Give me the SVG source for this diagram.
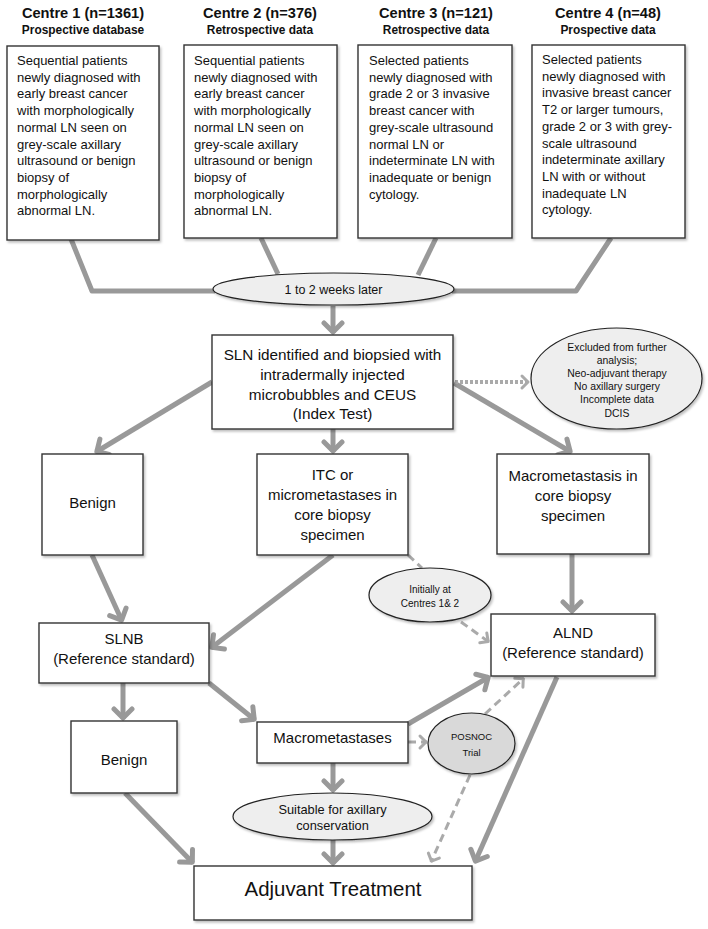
<svg xmlns="http://www.w3.org/2000/svg" width="708" height="929" viewBox="0 0 708 929">
<style>
text{font-family:"Liberation Sans",Arial,sans-serif;fill:#111}
.hd{font-weight:bold;font-size:14.6px;text-anchor:middle}
.sh{font-weight:bold;font-size:11.9px;text-anchor:middle}
.bt{font-size:13px}
.mt{font-size:15px;text-anchor:middle}
.sm{font-size:10.4px;text-anchor:middle}
.box{fill:#fff;stroke:#333;stroke-width:1.4;filter:url(#sh)}
.ell{fill:#eeeeee;stroke:#222;stroke-width:1.2;filter:url(#sh)}
.c{fill:none;stroke:#999;stroke-width:5;stroke-linejoin:round}
.d{fill:none;stroke:#aaa;stroke-width:3;stroke-dasharray:8 5}
.dt{fill:none;stroke:#aaa;stroke-width:4;stroke-dasharray:3 2}
</style>
<defs>
<filter id="sh" x="-10%" y="-10%" width="125%" height="130%">
<feDropShadow dx="1.5" dy="2" stdDeviation="1.2" flood-color="#000" flood-opacity="0.25"/>
</filter>
<marker id="ah" markerUnits="userSpaceOnUse" viewBox="-14 -12 16 24" markerWidth="16" markerHeight="24" refX="0" refY="0" orient="auto">
<path d="M-10,-9 L-1,0 L-10,9" fill="none" stroke="#999" stroke-width="5" stroke-linejoin="round" stroke-linecap="round"/>
</marker>
<marker id="ahd" markerUnits="userSpaceOnUse" viewBox="-10 -9 12 18" markerWidth="12" markerHeight="18" refX="0" refY="0" orient="auto">
<path d="M-7,-6 L-1,0 L-7,6" fill="none" stroke="#aaa" stroke-width="3" stroke-linejoin="round" stroke-linecap="round"/>
</marker>
</defs>

<g id="connectors">
<polyline class="c" points="71,239 92,291 215,291"/>
<line class="c" x1="261" y1="238" x2="278" y2="274"/>
<line class="c" x1="436" y1="238" x2="418" y2="275"/>
<polyline class="c" points="611,238 576,291 452,291"/>
<line class="c" x1="333" y1="306" x2="333" y2="333" marker-end="url(#ah)"/>
<line class="c" x1="212" y1="382" x2="96" y2="452" marker-end="url(#ah)"/>
<line class="c" x1="333" y1="429" x2="333" y2="452" marker-end="url(#ah)"/>
<line class="c" x1="454" y1="383" x2="571" y2="452" marker-end="url(#ah)"/>
<line class="c" x1="92" y1="555" x2="122" y2="621" marker-end="url(#ah)"/>
<line class="c" x1="333" y1="555" x2="211" y2="648" marker-end="url(#ah)"/>
<line class="c" x1="572" y1="554" x2="572" y2="612" marker-end="url(#ah)"/>
<line class="c" x1="123" y1="683" x2="123" y2="719" marker-end="url(#ah)"/>
<line class="c" x1="209" y1="683" x2="255" y2="720" marker-end="url(#ah)"/>
<line class="c" x1="408" y1="724" x2="489" y2="677" marker-end="url(#ah)"/>
<line class="c" x1="333" y1="763" x2="333" y2="791" marker-end="url(#ah)"/>
<line class="c" x1="333" y1="840" x2="333" y2="864" marker-end="url(#ah)"/>
<line class="c" x1="125" y1="793" x2="193" y2="863" marker-end="url(#ah)"/>
<line class="c" x1="557" y1="677" x2="475" y2="862" marker-end="url(#ah)"/>
<line class="d" x1="408" y1="555" x2="422" y2="568"/>
<line class="d" x1="461" y1="622" x2="489" y2="642" marker-end="url(#ahd)"/>
<line class="d" x1="408" y1="742" x2="427" y2="742" marker-end="url(#ahd)"/>
<line class="d" x1="485" y1="714" x2="524" y2="678" marker-end="url(#ahd)"/>
<line class="d" x1="470" y1="775" x2="431" y2="862" marker-end="url(#ahd)"/>
<line class="dt" x1="455" y1="382" x2="529" y2="382" marker-end="url(#ahd)"/>
</g>

<g id="centre1">
<text class="hd" x="83" y="18">Centre 1 (n=1361)</text>
<text class="sh" x="83" y="34">Prospective database</text>
<rect class="box" x="7" y="46" width="152" height="194"/>
<text class="bt" x="17" y="65">Sequential patients</text>
<text class="bt" x="17" y="81.7">newly diagnosed with</text>
<text class="bt" x="17" y="98.4">early breast cancer</text>
<text class="bt" x="17" y="115.1">with morphologically</text>
<text class="bt" x="17" y="131.8">normal LN seen on</text>
<text class="bt" x="17" y="148.5">grey-scale axillary</text>
<text class="bt" x="17" y="165.2">ultrasound or benign</text>
<text class="bt" x="17" y="181.9">biopsy of</text>
<text class="bt" x="17" y="198.6">morphologically</text>
<text class="bt" x="17" y="215.3">abnormal LN.</text>
</g>

<g id="centre2">
<text class="hd" x="260" y="18">Centre 2 (n=376)</text>
<text class="sh" x="260" y="34">Retrospective data</text>
<rect class="box" x="184" y="45" width="153" height="193"/>
<text class="bt" x="194" y="65">Sequential patients</text>
<text class="bt" x="194" y="81.7">newly diagnosed with</text>
<text class="bt" x="194" y="98.4">early breast cancer</text>
<text class="bt" x="194" y="115.1">with morphologically</text>
<text class="bt" x="194" y="131.8">normal LN seen on</text>
<text class="bt" x="194" y="148.5">grey-scale axillary</text>
<text class="bt" x="194" y="165.2">ultrasound or benign</text>
<text class="bt" x="194" y="181.9">biopsy of</text>
<text class="bt" x="194" y="198.6">morphologically</text>
<text class="bt" x="194" y="215.3">abnormal LN.</text>
</g>

<g id="centre3">
<text class="hd" x="436" y="18">Centre 3 (n=121)</text>
<text class="sh" x="436" y="34">Retrospective data</text>
<rect class="box" x="358" y="45" width="154" height="193"/>
<text class="bt" x="369" y="65">Selected patients</text>
<text class="bt" x="369" y="81.7">newly diagnosed with</text>
<text class="bt" x="369" y="98.4">grade 2 or 3 invasive</text>
<text class="bt" x="369" y="115.1">breast cancer with</text>
<text class="bt" x="369" y="131.8">grey-scale ultrasound</text>
<text class="bt" x="369" y="148.5">normal LN or</text>
<text class="bt" x="369" y="165.2">indeterminate LN with</text>
<text class="bt" x="369" y="181.9">inadequate or benign</text>
<text class="bt" x="369" y="198.6">cytology.</text>
</g>

<g id="centre4">
<text class="hd" x="608" y="18">Centre 4 (n=48)</text>
<text class="sh" x="608" y="34">Prospective data</text>
<rect class="box" x="532" y="45" width="153" height="193"/>
<text class="bt" x="542" y="64">Selected patients</text>
<text class="bt" x="542" y="80.7">newly diagnosed with</text>
<text class="bt" x="542" y="97.4">invasive breast cancer</text>
<text class="bt" x="542" y="114.1">T2 or larger tumours,</text>
<text class="bt" x="542" y="130.8">grade 2 or 3 with grey-</text>
<text class="bt" x="542" y="147.5">scale ultrasound</text>
<text class="bt" x="542" y="164.2">indeterminate axillary</text>
<text class="bt" x="542" y="180.9">LN with or without</text>
<text class="bt" x="542" y="197.6">inadequate LN</text>
<text class="bt" x="542" y="214.3">cytology.</text>
</g>

<g id="weeks">
<ellipse class="ell" cx="333.5" cy="289" rx="120.5" ry="16"/>
<text x="333.5" y="293.5" style="font-size:12.5px;text-anchor:middle">1 to 2 weeks later</text>
</g>

<g id="sln">
<rect class="box" x="212" y="335" width="241" height="94"/>
<text class="mt" x="332.5" y="360" style="font-size:15.3px">SLN identified and biopsied with</text>
<text class="mt" x="332.5" y="380" style="font-size:15.3px">intradermally injected</text>
<text class="mt" x="332.5" y="400" style="font-size:15.3px">microbubbles and CEUS</text>
<text class="mt" x="332.5" y="419" style="font-size:15.3px">(Index Test)</text>
</g>

<g id="excluded">
<ellipse class="ell" cx="616.5" cy="378.5" rx="85.5" ry="50.5"/>
<text class="sm" x="617" y="350.5">Excluded from further</text>
<text class="sm" x="617" y="363.5">analysis;</text>
<text class="sm" x="617" y="377">Neo-adjuvant therapy</text>
<text class="sm" x="617" y="390">No axillary surgery</text>
<text class="sm" x="617" y="403">Incomplete data</text>
<text class="sm" x="617" y="416.5">DCIS</text>
</g>

<g id="benign1">
<rect class="box" x="42" y="454" width="101" height="101"/>
<text class="mt" x="92.5" y="508">Benign</text>
</g>

<g id="itc">
<rect class="box" x="257" y="454" width="151" height="101"/>
<text class="mt" x="332.5" y="480">ITC or</text>
<text class="mt" x="332.5" y="500">micrometastases in</text>
<text class="mt" x="332.5" y="520">core biopsy</text>
<text class="mt" x="332.5" y="540">specimen</text>
</g>

<g id="macro1">
<rect class="box" x="497" y="454" width="152" height="100"/>
<text class="mt" x="573" y="481">Macrometastasis in</text>
<text class="mt" x="573" y="501">core biopsy</text>
<text class="mt" x="573" y="521">specimen</text>
</g>

<g id="initially">
<ellipse class="ell" cx="430" cy="595" rx="61" ry="27"/>
<text class="sm" x="430" y="592.5" style="font-size:10px">Initially at</text>
<text class="sm" x="430" y="606.5" style="font-size:10px">Centres 1&amp; 2</text>
</g>

<g id="slnb">
<rect class="box" x="39" y="623" width="170" height="60"/>
<text class="mt" x="124" y="644">SLNB</text>
<text class="mt" x="124" y="664">(Reference standard)</text>
</g>

<g id="alnd">
<rect class="box" x="491" y="614" width="164" height="62"/>
<text class="mt" x="573" y="638">ALND</text>
<text class="mt" x="573" y="658">(Reference standard)</text>
</g>

<g id="benign2">
<rect class="box" x="71" y="721" width="106" height="72"/>
<text class="mt" x="124" y="765">Benign</text>
</g>

<g id="macro2">
<rect class="box" x="257" y="722" width="151" height="41"/>
<text class="mt" x="332.5" y="743">Macrometastases</text>
</g>

<g id="posnoc">
<ellipse cx="471.5" cy="743.5" rx="43.5" ry="30.5" fill="#d9d9d9" stroke="#222" stroke-width="1.2" filter="url(#sh)"/>
<text class="sm" x="471.5" y="740" style="font-size:9.5px">POSNOC</text>
<text class="sm" x="471.5" y="756" style="font-size:9.5px">Trial</text>
</g>

<g id="suitable">
<ellipse class="ell" cx="332.5" cy="816.5" rx="99.5" ry="23.5"/>
<text x="332.5" y="813.5" style="font-size:12.8px;text-anchor:middle">Suitable for axillary</text>
<text x="332.5" y="829.5" style="font-size:12.8px;text-anchor:middle">conservation</text>
</g>

<g id="adjuvant">
<rect class="box" x="194" y="866" width="278" height="54"/>
<text x="333" y="895.5" style="font-size:20.4px;text-anchor:middle">Adjuvant Treatment</text>
</g>
</svg>
